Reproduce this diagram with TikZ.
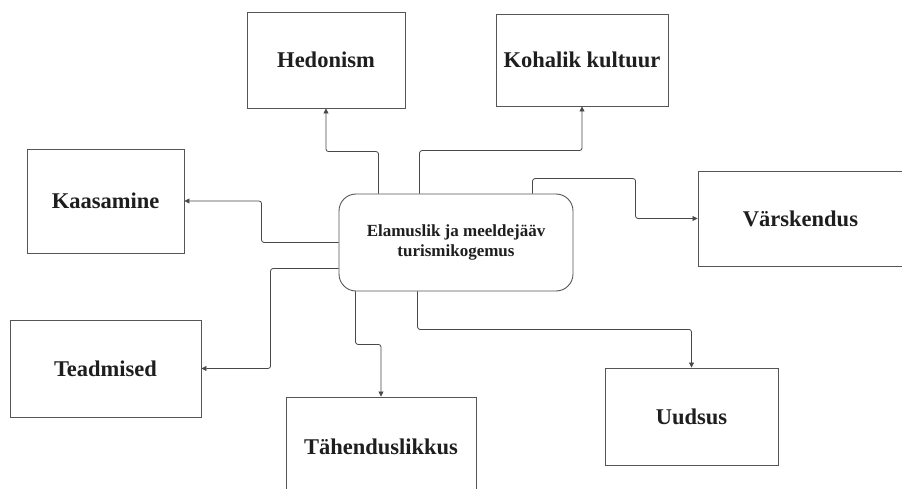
\documentclass[tikz,border=0pt]{standalone}
\usepackage{fontspec}
\setmainfont{Liberation Serif}
\usetikzlibrary{arrows.meta}
\definecolor{edge}{HTML}{555555}
\definecolor{txt}{HTML}{1E1E1E}
\begin{document}
\begin{tikzpicture}[x=1pt,y=-1pt,
  box/.style={draw=edge,line width=0.9pt,rectangle,inner sep=0pt,text=txt,
    font=\fontsize{22.5}{26}\selectfont\bfseries},
  hub/.style={draw=edge,line width=0.9pt,rectangle,rounded corners=17pt,inner sep=0pt,
    text=txt,align=center,font=\fontsize{17}{20}\selectfont\bfseries,
    minimum width=234pt,minimum height=97pt},
  conn/.style={draw=edge!85!black,line width=0.8pt,rounded corners=2.5pt,
    -{Triangle[length=5pt,width=5pt]}}]
\useasboundingbox[fill=white] (0,0) rectangle (902,489);
\node[hub] (c) at (456,242.5) {Elamuslik ja meeldejääv\\turismikogemus};
\node[box,minimum width=158pt,minimum height=96pt] (hed) at (326,60) {Hedonism};
\node[box,minimum width=172pt,minimum height=92pt] (koh) at (582,60) {Kohalik kultuur};
\node[box,minimum width=157pt,minimum height=104pt] (kaa) at (105.5,201) {Kaasamine};
\node[box,minimum width=205pt,minimum height=95pt] (var) at (800.5,218.5) {Värskendus};
\node[box,minimum width=191pt,minimum height=97pt] (tea) at (105.5,368.5) {Teadmised};
\node[box,minimum width=190pt,minimum height=100pt] (tah) at (381,447) {Tähenduslikkus};
\node[box,minimum width=173pt,minimum height=97pt] (uud) at (691.5,416.5) {Uudsus};
\draw[conn] ([xshift=40pt]c.north west) -- ++(0,-42) -| (hed.south);
\draw[conn] ([xshift=81pt]c.north west) -- ++(0,-43) -| (koh.south);
\draw[conn] ([xshift=194pt]c.north west) -- ++(0,-15) -- ++(103,0) |- (var.west);
\draw[conn] (c.west) -- ++(-77,0) |- (kaa.east);
\draw[conn] ([yshift=-26pt]c.west) -- ++(-68,0) |- (tea.east);
\draw[conn] ([xshift=17pt]c.south west) -- ++(0,53) -| (tah.north);
\draw[conn] ([xshift=79pt]c.south west) -- ++(0,38) -| (uud.north);
\end{tikzpicture}
\end{document}
